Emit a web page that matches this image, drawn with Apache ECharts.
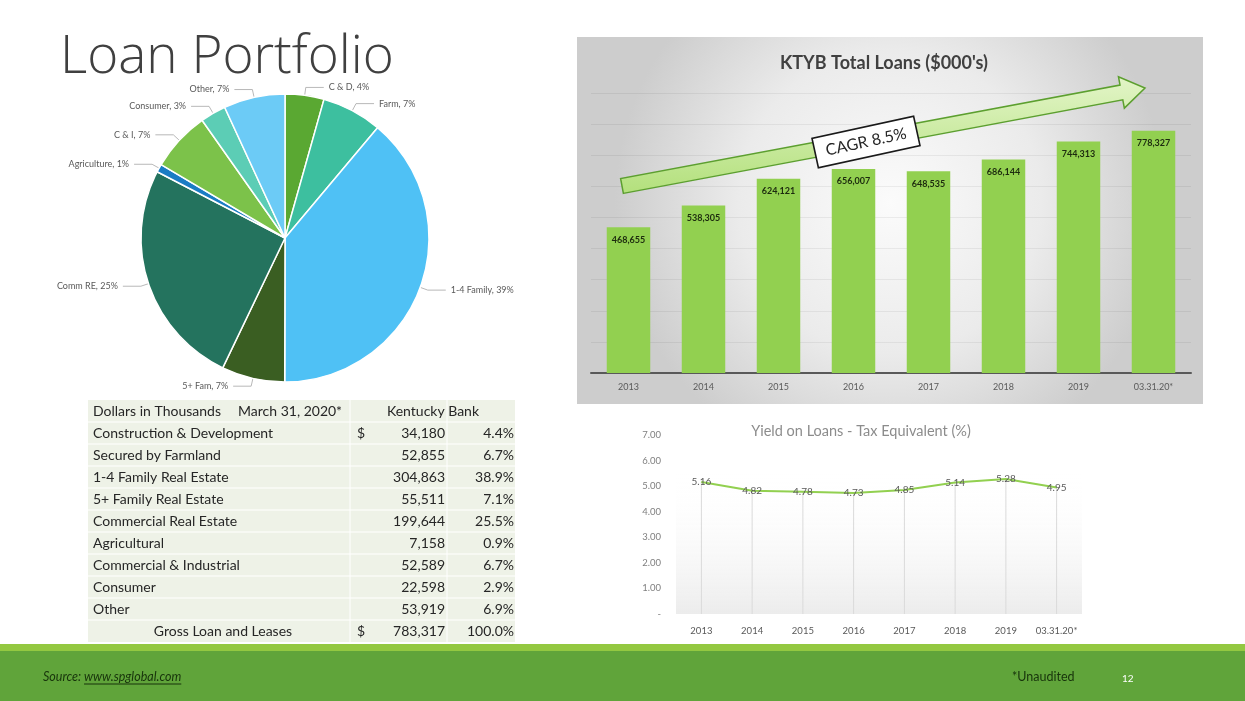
<!DOCTYPE html>
<html><head><meta charset="utf-8">
<script src="https://cdn.jsdelivr.net/npm/echarts@6/dist/echarts.min.js"></script>
<style>html,body{margin:0;padding:0;background:#fff;overflow:hidden}#c{width:1245px;height:701px}</style>
</head><body><div id="c"></div>
<script>
// ---------- data ----------
const pieNames = ['C & D', 'Farm', '1-4 Family', '5+ Fam', 'Comm RE', 'Agriculture', 'C & I', 'Consumer', 'Other'];
const loanLabels = ['Construction & Development', 'Secured by Farmland', '1-4 Family Real Estate', '5+ Family Real Estate', 'Commercial Real Estate', 'Agricultural', 'Commercial & Industrial', 'Consumer', 'Other'];
const loanAmounts = [34180, 52855, 304863, 55511, 199644, 7158, 52589, 22598, 53919];
const loanPercents = ['4.4%', '6.7%', '38.9%', '7.1%', '25.5%', '0.9%', '6.7%', '2.9%', '6.9%'];
const totalLabel = 'Gross Loan and Leases';
const totalAmount = 783317;
const totalPercent = '100.0%';
const tableHeader = ['Dollars in Thousands', 'March 31, 2020*', 'Kentucky Bank'];

const barCategories = ['2013', '2014', '2015', '2016', '2017', '2018', '2019', '03.31.20*'];
const totalLoans = [468655, 538305, 624121, 656007, 648535, 686144, 744313, 778327];

const yieldCategories = ['2013', '2014', '2015', '2016', '2017', '2018', '2019', '03.31.20*'];
const yieldValues = [5.16, 4.82, 4.78, 4.73, 4.85, 5.14, 5.28, 4.95];

// ---------- styles ----------
const pieColors = ['#5aa832', '#3dbf9f', '#4fc1f5', '#3a5e22', '#24735e', '#1b7cc4', '#7cc24a', '#5ccdb5', '#6ccbf6'];
const FONT = 'Lato, "Open Sans", sans-serif';
const fmt = v => v.toLocaleString('en-US');

const chart = echarts.init(document.getElementById('c'), null, {renderer: 'canvas'});

// ---------- table graphics ----------
const graphics = [];
const tX = 88, tW = 427, tTop = 400, rowH = 22;
const nRows = loanLabels.length + 2;
graphics.push({type: 'rect', shape: {x: tX, y: tTop, width: tW, height: rowH * nRows}, style: {fill: '#eef2e7'}, z: 1});
for (let i = 1; i < nRows; i++) {
  graphics.push({type: 'line', shape: {x1: tX, y1: tTop + rowH * i, x2: tX + tW, y2: tTop + rowH * i}, style: {stroke: '#ffffff', lineWidth: 1.2}, z: 2});
}
[350, 447].forEach(x => graphics.push({type: 'line', shape: {x1: x, y1: tTop, x2: x, y2: tTop + rowH * nRows}, style: {stroke: '#ffffff', lineWidth: 1}, z: 2}));
const txt = (text, x, y, align, extra) => Object.assign({
  type: 'text', z: 5,
  style: Object.assign({text: text, x: x, y: y, textAlign: align || 'left', textVerticalAlign: 'middle', font: '14px ' + FONT, fill: '#262626'}, extra || {})
});
const rowY = i => tTop + rowH * i + rowH / 2;
graphics.push(txt(tableHeader[0], 93, rowY(0)));
graphics.push(txt(tableHeader[1], 238, rowY(0)));
graphics.push(txt(tableHeader[2], 433, rowY(0), 'center'));
loanLabels.forEach((lab, i) => {
  const y = rowY(i + 1);
  graphics.push(txt(lab, 93, y));
  if (i === 0) graphics.push(txt('$', 357, y));
  graphics.push(txt(fmt(loanAmounts[i]), 445, y, 'right'));
  graphics.push(txt(loanPercents[i], 514, y, 'right'));
});
{
  const y = rowY(nRows - 1);
  graphics.push(txt(totalLabel, 223, y, 'center'));
  graphics.push(txt('$', 357, y));
  graphics.push(txt(fmt(totalAmount), 445, y, 'right'));
  graphics.push(txt(totalPercent, 514, y, 'right'));
}

// ---------- title ----------
graphics.push({type: 'text', z: 5, style: {text: 'Loan Portfolio', x: 60, y: 31, textVerticalAlign: 'top', font: '300 53px "Open Sans", Lato, sans-serif', fill: '#404040'}});

// ---------- bar panel background ----------
graphics.push({type: 'rect', z: 0, shape: {x: 577, y: 37, width: 626, height: 367},
  style: {fill: new echarts.graphic.RadialGradient(0.5, 0.45, 0.75, [{offset: 0, color: '#fbfbfb'}, {offset: 0.55, color: '#ebebeb'}, {offset: 1, color: '#cdcdcd'}])}});
graphics.push({type: 'text', z: 5, style: {text: "KTYB Total Loans ($000's)", x: 884, y: 63, textAlign: 'center', textVerticalAlign: 'middle', font: 'bold 18px ' + FONT, fill: '#404040'}});

// arrow
function arrowPoints(x0, y0, x1, y1, sw, hw, hl) {
  const dx = x1 - x0, dy = y1 - y0, L = Math.hypot(dx, dy), ux = dx / L, uy = dy / L, nx = -uy, ny = ux;
  const bx = x1 - ux * hl, by = y1 - uy * hl;
  return [[x0 + nx * sw, y0 + ny * sw], [bx + nx * sw, by + ny * sw], [bx + nx * hw, by + ny * hw], [x1, y1], [bx - nx * hw, by - ny * hw], [bx - nx * sw, by - ny * sw], [x0 - nx * sw, y0 - ny * sw]];
}
const ax0 = 622, ay0 = 186, ax1 = 1145, ay1 = 88;
graphics.push({type: 'polygon', z: 20, shape: {points: arrowPoints(ax0, ay0, ax1, ay1, 7.5, 16, 24)},
  style: {fill: new echarts.graphic.LinearGradient(0, 0, 0, 1, [{offset: 0, color: '#e3f5c8'}, {offset: 1, color: '#b3e07c'}]), stroke: '#5c9f2f', lineWidth: 1.5}});
const ang = Math.atan2(ay0 - ay1, ax1 - ax0);
graphics.push({type: 'group', z: 21, x: 866, y: 142, rotation: ang + 0.03, children: [
  {type: 'rect', z: 21, shape: {x: -52, y: -15, width: 104, height: 30}, style: {fill: '#ffffff', stroke: '#1a1a1a', lineWidth: 1.6}},
  {type: 'text', z: 22, style: {text: 'CAGR 8.5%', x: 0, y: 0, textAlign: 'center', textVerticalAlign: 'middle', font: '16px ' + FONT, fill: '#262626'}}
]});

// ---------- line chart title ----------
graphics.push({type: 'text', z: 5, style: {text: 'Yield on Loans - Tax Equivalent (%)', x: 861, y: 431, textAlign: 'center', textVerticalAlign: 'middle', font: '14.5px ' + FONT, fill: '#8c8c8c'}});

// ---------- footer ----------
graphics.push({type: 'rect', z: 0, shape: {x: 0, y: 644, width: 1245, height: 7}, style: {fill: '#93c841'}});
graphics.push({type: 'rect', z: 0, shape: {x: 0, y: 651, width: 1245, height: 50}, style: {fill: '#60a43a'}});
const mctx = document.createElement('canvas').getContext('2d');
const footFont = 'italic 12.5px ' + FONT;
mctx.font = footFont;
const srcW = mctx.measureText('Source: ').width;
const linkW = mctx.measureText('www.spglobal.com').width;
graphics.push({type: 'text', z: 5, style: {text: 'Source: ', x: 43, y: 677, textVerticalAlign: 'middle', font: footFont, fill: '#17330b'}});
graphics.push({type: 'text', z: 5, style: {text: 'www.spglobal.com', x: 43 + srcW, y: 677, textVerticalAlign: 'middle', font: footFont, fill: '#17330b'}});
graphics.push({type: 'line', z: 5, shape: {x1: 43 + srcW, y1: 684, x2: 43 + srcW + linkW, y2: 684}, style: {stroke: '#17330b', lineWidth: 1}});
graphics.push({type: 'text', z: 5, style: {text: '*Unaudited', x: 1012, y: 677, textVerticalAlign: 'middle', font: '12.5px ' + FONT, fill: '#17330b'}});
graphics.push({type: 'text', z: 5, style: {text: '12', x: 1122, y: 679, textVerticalAlign: 'middle', font: '10px ' + FONT, fill: '#ffffff'}});

const option = {
  animation: false,
  textStyle: {fontFamily: FONT},
  graphic: {elements: graphics},
  grid: [
    {left: 591, right: 54, top: 93, bottom: 328, containLabel: false},
    {left: 676, right: 163, top: 435, bottom: 87, containLabel: false, show: true, borderWidth: 0,
     backgroundColor: new echarts.graphic.LinearGradient(0, 0, 0, 1, [{offset: 0, color: 'rgba(255,255,255,0)'}, {offset: 0.2, color: 'rgba(255,255,255,0)'}, {offset: 1, color: '#ececec'}])}
  ],
  xAxis: [
    {type: 'category', gridIndex: 0, data: barCategories, axisTick: {show: false},
     axisLine: {lineStyle: {color: '#595959', width: 2}},
     axisLabel: {fontSize: 9, color: '#595959', margin: 10, interval: 0}},
    {type: 'category', gridIndex: 1, data: yieldCategories, axisTick: {show: false},
     axisLine: {show: false}, axisLabel: {fontSize: 9.5, color: '#595959', margin: 12, interval: 0}}
  ],
  yAxis: [
    {type: 'value', gridIndex: 0, min: 0, max: 900000, interval: 100000, axisLabel: {show: false},
     axisLine: {show: false}, axisTick: {show: false}, splitLine: {lineStyle: {color: 'rgba(0,0,0,0.06)', width: 1}}},
    {type: 'value', gridIndex: 1, min: 0, max: 7, interval: 1, axisLine: {show: false}, axisTick: {show: false},
     splitLine: {show: false},
     axisLabel: {fontSize: 9.5, color: '#7f7f7f', margin: 15, formatter: v => v === 0 ? '-' : v.toFixed(2)}}
  ],
  series: [
    {type: 'pie', center: [285, 238], radius: 144, startAngle: 90, clockwise: true,
     data: pieNames.map((n, i) => ({name: n, value: loanAmounts[i], itemStyle: {color: pieColors[i]}})),
     itemStyle: {borderColor: '#ffffff', borderWidth: 1.5},
     label: {show: true, position: 'outside', fontSize: 9, color: '#595959',
       formatter: p => p.name + ', ' + Math.round(p.percent) + '%'},
     labelLine: {show: true, length: 8, length2: 18, lineStyle: {color: '#a6a6a6', width: 0.8}},
     emphasis: {disabled: true}},
    {type: 'bar', xAxisIndex: 0, yAxisIndex: 0, data: totalLoans, barWidth: '58%',
     itemStyle: {color: '#92d050'},
     label: {show: true, position: 'insideTop', distance: 8, fontSize: 9, fontWeight: 'bold', color: '#1c2a0e', formatter: p => fmt(p.value)},
     z: 2},
    {type: 'bar', xAxisIndex: 1, yAxisIndex: 1, data: yieldValues, barWidth: 1, silent: true,
     itemStyle: {color: '#dadada'}, z: 1},
    {type: 'line', xAxisIndex: 1, yAxisIndex: 1, data: yieldValues, symbol: 'circle', symbolSize: 1,
     lineStyle: {color: '#92d050', width: 2}, itemStyle: {color: '#92d050'},
     label: {show: true, position: 'inside', fontSize: 10, color: '#595959', formatter: p => p.value.toFixed(2)},
     z: 3}
  ]
};
chart.setOption(option);
</script>
</body></html>
